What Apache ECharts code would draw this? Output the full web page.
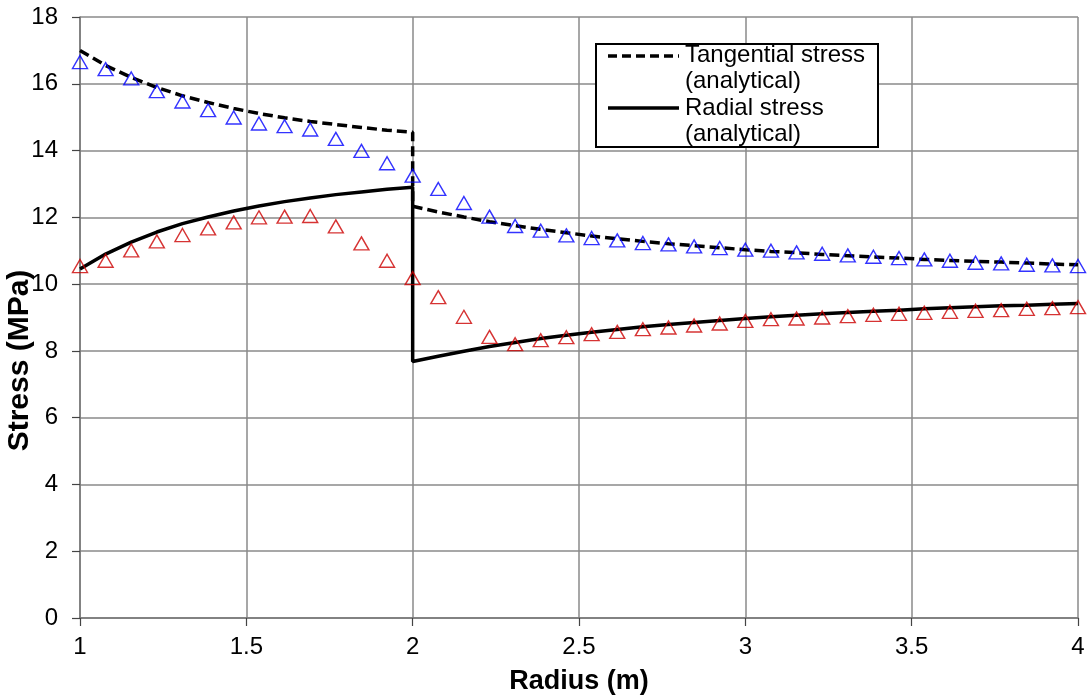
<!DOCTYPE html>
<html>
<head>
<meta charset="utf-8">
<script src="https://cdn.jsdelivr.net/npm/echarts@6/dist/echarts.min.js"></script>
<style>
  html, body { margin: 0; padding: 0; background: #fff; }
  #chart { width: 1090px; height: 700px; }
</style>
</head>
<body>
<div id="chart"></div>
<script>
// 数值解的半径位置
var radius = [1.000, 1.077, 1.154, 1.231, 1.308, 1.385, 1.462, 1.538, 1.615, 1.692, 1.769, 1.846, 1.923, 2.000,
    2.077, 2.154, 2.231, 2.308, 2.385, 2.462, 2.538, 2.615, 2.692, 2.769, 2.846, 2.923, 3.000,
    3.077, 3.154, 3.231, 3.308, 3.385, 3.462, 3.538, 3.615, 3.692, 3.769, 3.846, 3.923, 4.000];
var tangentialNum = [16.65, 16.44, 16.16, 15.78, 15.47, 15.21, 14.99, 14.81, 14.73, 14.63, 14.35, 13.99, 13.62, 13.25,
    12.85, 12.43, 12.02, 11.74, 11.60, 11.46, 11.38, 11.31, 11.23, 11.19, 11.13, 11.08, 11.03,
    11.00, 10.95, 10.91, 10.86, 10.82, 10.78, 10.74, 10.70, 10.64, 10.62, 10.58, 10.56, 10.54];
var radialNum = [10.54, 10.70, 11.01, 11.28, 11.47, 11.67, 11.85, 12.00, 12.02, 12.04, 11.73, 11.22, 10.70, 10.18,
    9.61, 9.02, 8.42, 8.20, 8.32, 8.41, 8.50, 8.57, 8.65, 8.70, 8.76, 8.82, 8.90,
    8.95, 8.97, 9.00, 9.04, 9.08, 9.11, 9.14, 9.17, 9.20, 9.22, 9.26, 9.28, 9.31];

// 解析解（r=2 处有跳变，所以 2 出现两次）
var anaRadius = [1.000, 1.077, 1.154, 1.231, 1.308, 1.385, 1.462, 1.538, 1.615, 1.692, 1.769, 1.846, 1.923, 2.000,
    2.000, 2.077, 2.154, 2.231, 2.308, 2.385, 2.462, 2.538, 2.615, 2.692, 2.769, 2.846, 2.923, 3.000,
    3.077, 3.154, 3.231, 3.308, 3.385, 3.462, 3.538, 3.615, 3.692, 3.769, 3.846, 3.923, 4.000];
var tangentialAna = [17.00, 16.55, 16.19, 15.89, 15.64, 15.44, 15.26, 15.11, 14.98, 14.87, 14.78, 14.69, 14.61, 14.55,
    12.33, 12.16, 12.01, 11.87, 11.75, 11.64, 11.54, 11.44, 11.36, 11.28, 11.21, 11.15, 11.09, 11.03,
    10.98, 10.94, 10.89, 10.85, 10.81, 10.78, 10.74, 10.71, 10.68, 10.66, 10.63, 10.60, 10.58];
var radialAna = [10.45, 10.90, 11.26, 11.56, 11.81, 12.01, 12.19, 12.34, 12.47, 12.58, 12.68, 12.76, 12.84, 12.90,
    7.68, 7.84, 7.99, 8.13, 8.25, 8.37, 8.47, 8.56, 8.64, 8.72, 8.79, 8.85, 8.91, 8.97,
    9.02, 9.07, 9.11, 9.15, 9.19, 9.22, 9.26, 9.29, 9.32, 9.35, 9.37, 9.40, 9.42];

var legendNames = ['Tangential stress', '(analytical)', 'Radial stress', '(analytical)'];

function pairs(xs, ys) {
    var out = [];
    for (var i = 0; i < xs.length; i++) {
        out.push([xs[i], ys[i]]);
    }
    return out;
}

var font = '"Liberation Sans", Arial, sans-serif';
var myChart = echarts.init(document.getElementById('chart'));

var option = {
    animation: false,
    backgroundColor: '#fff',
    grid: {
        left: 80,
        right: 12,
        top: 17,
        bottom: 82,
        containLabel: false,
        outerBoundsMode: 'none'
    },
    xAxis: {
        type: 'value',
        min: 1,
        max: 4,
        interval: 0.5,
        name: 'Radius (m)',
        nameLocation: 'middle',
        nameGap: 50,
        nameMoveOverlap: false,
        nameTextStyle: { fontFamily: font, fontSize: 27, fontWeight: 'bold', color: '#000' },
        axisLine: { onZero: false, lineStyle: { color: '#777', width: 1.5 } },
        axisTick: { show: true, length: 8, lineStyle: { color: '#444', width: 1.2 } },
        axisLabel: { fontFamily: font, fontSize: 24, color: '#000', margin: 17 },
        splitLine: { show: true, lineStyle: { color: '#8a8a8a', width: 1.5 } }
    },
    yAxis: {
        type: 'value',
        min: 0,
        max: 18,
        interval: 2,
        name: 'Stress (MPa)',
        nameLocation: 'middle',
        nameGap: 45,
        nameMoveOverlap: false,
        nameTextStyle: { fontFamily: font, fontSize: 30, fontWeight: 'bold', color: '#000', padding: [0, 86, 0, 0] },
        axisLine: { show: true, lineStyle: { color: '#777', width: 1.5 } },
        axisTick: { show: true, length: 8, lineStyle: { color: '#444', width: 1.2 } },
        axisLabel: { fontFamily: font, fontSize: 24, color: '#000', margin: 22 },
        splitLine: { show: true, lineStyle: { color: '#8a8a8a', width: 1.5 } }
    },
    series: [
        {
            name: 'Tangential stress (analytical)',
            type: 'line',
            data: pairs(anaRadius, tangentialAna),
            showSymbol: false,
            symbol: 'none',
            lineStyle: { color: '#000', width: 3.5, type: [10, 5] },
            z: 3
        },
        {
            name: 'Radial stress (analytical)',
            type: 'line',
            data: pairs(anaRadius, radialAna),
            showSymbol: false,
            symbol: 'none',
            lineStyle: { color: '#000', width: 3.5 },
            z: 3
        },
        {
            name: 'Tangential stress (numerical)',
            type: 'scatter',
            data: pairs(radius, tangentialNum),
            symbol: 'triangle',
            symbolSize: [15, 13],
            itemStyle: { color: 'rgba(255,255,255,0)', borderColor: '#0000ff', borderWidth: 1.4 },
            z: 4
        },
        {
            name: 'Radial stress (numerical)',
            type: 'scatter',
            data: pairs(radius, radialNum),
            symbol: 'triangle',
            symbolSize: [15, 13],
            itemStyle: { color: 'rgba(255,255,255,0)', borderColor: '#cc0000', borderWidth: 1.4 },
            z: 4
        }
    ],
    graphic: [
        // 图例框
        {
            type: 'rect',
            shape: { x: 596, y: 44, width: 282, height: 103 },
            style: { fill: '#fff', stroke: '#000', lineWidth: 2 },
            z: 10
        },
        {
            type: 'line',
            shape: { x1: 608, y1: 56, x2: 679, y2: 56 },
            style: { stroke: '#000', lineWidth: 3.5, lineDash: [9, 5] },
            z: 11
        },
        {
            type: 'line',
            shape: { x1: 608, y1: 108, x2: 679, y2: 108 },
            style: { stroke: '#000', lineWidth: 3.5 },
            z: 11
        },
        {
            type: 'text',
            style: { x: 685, y: 55, text: legendNames[0], fontFamily: font, fontSize: 24, fill: '#000', verticalAlign: 'middle' },
            z: 11
        },
        {
            type: 'text',
            style: { x: 685, y: 81, text: legendNames[1], fontFamily: font, fontSize: 24, fill: '#000', verticalAlign: 'middle' },
            z: 11
        },
        {
            type: 'text',
            style: { x: 685, y: 108, text: legendNames[2], fontFamily: font, fontSize: 24, fill: '#000', verticalAlign: 'middle' },
            z: 11
        },
        {
            type: 'text',
            style: { x: 685, y: 134, text: legendNames[3], fontFamily: font, fontSize: 24, fill: '#000', verticalAlign: 'middle' },
            z: 11
        }
    ]
};
myChart.setOption(option);
</script>
</body>
</html>
